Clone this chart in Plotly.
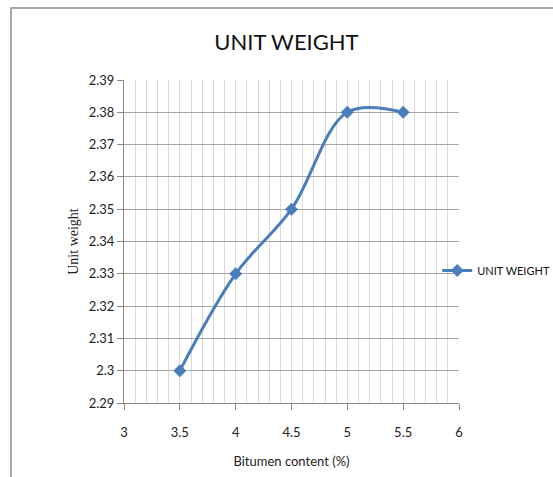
import plotly.graph_objects as go

bitumen = [3.5, 4.0, 4.5, 5.0, 5.5]
unit_weight = [2.30, 2.33, 2.35, 2.38, 2.38]
series_name = "UNIT WEIGHT"
x_ticks = [3, 3.5, 4, 4.5, 5, 5.5, 6]
x_labels = ["3", "3.5", "4", "4.5", "5", "5.5", "6"]
y_ticks = [2.29, 2.30, 2.31, 2.32, 2.33, 2.34, 2.35, 2.36, 2.37, 2.38, 2.39]
y_labels = ["2.29", "2.3", "2.31", "2.32", "2.33", "2.34", "2.35", "2.36", "2.37", "2.38", "2.39"]

FONT = "Lato, Roboto, sans-serif"
blue = "#4a7ebb"

fig = go.Figure()
fig.add_trace(go.Scatter(
    x=bitumen, y=unit_weight, name=series_name,
    mode="lines+markers",
    line=dict(color=blue, width=3, shape="spline", smoothing=1.0),
    marker=dict(symbol="diamond", size=10, color=blue),
))

fig.update_layout(
    width=553, height=477,
    paper_bgcolor="white", plot_bgcolor="white",
    margin=dict(l=124, r=94, t=80, b=74, autoexpand=False),
    title=dict(text="UNIT WEIGHT", x=0.518, xanchor="center", y=0.912, yanchor="middle",
               font=dict(family=FONT, size=22, color="#111")),
    font=dict(family=FONT, size=13, color="#222"),
    showlegend=True,
    legend=dict(x=0.935, y=0.41, xanchor="left", yanchor="middle",
                font=dict(family=FONT, size=11, color="#111"),
                bgcolor="rgba(0,0,0,0)", itemwidth=30),
    xaxis=dict(
        range=[3, 6], tickvals=x_ticks, ticktext=x_labels,
        showgrid=True, gridcolor="#d9d9d9", gridwidth=1,
        minor=dict(dtick=0.1, tick0=3, showgrid=True, gridcolor="#d9d9d9", gridwidth=1),
        showline=True, linecolor="#888", linewidth=1,
        ticks="outside", ticklen=6, tickcolor="#888",
        ticklabelstandoff=11,
        zeroline=False,
        title=dict(text="Bitumen content (%)", standoff=18,
                   font=dict(family=FONT, size=13, color="#222")),
    ),
    yaxis=dict(
        range=[2.29, 2.39], tickvals=y_ticks, ticktext=y_labels,
        showgrid=True, gridcolor="#a6a6a6", gridwidth=1,
        showline=True, linecolor="#888", linewidth=1,
        ticks="outside", ticklen=6, tickcolor="#888",
        zeroline=False,
        title=dict(text="Unit weight", standoff=6,
                   font=dict(family="Liberation Serif, DejaVu Serif, serif", size=14, color="#222")),
    ),
)

fig.add_shape(type="rect", xref="paper", yref="paper",
              x0=(11 - 124) / 335, x1=(560 - 124) / 335,
              y0=(403 - 485) / 323, y1=(403 - 8) / 323,
              line=dict(color="#8c8c8c", width=1.5), fillcolor="rgba(0,0,0,0)", layer="below")

fig.write_html("out.html")
